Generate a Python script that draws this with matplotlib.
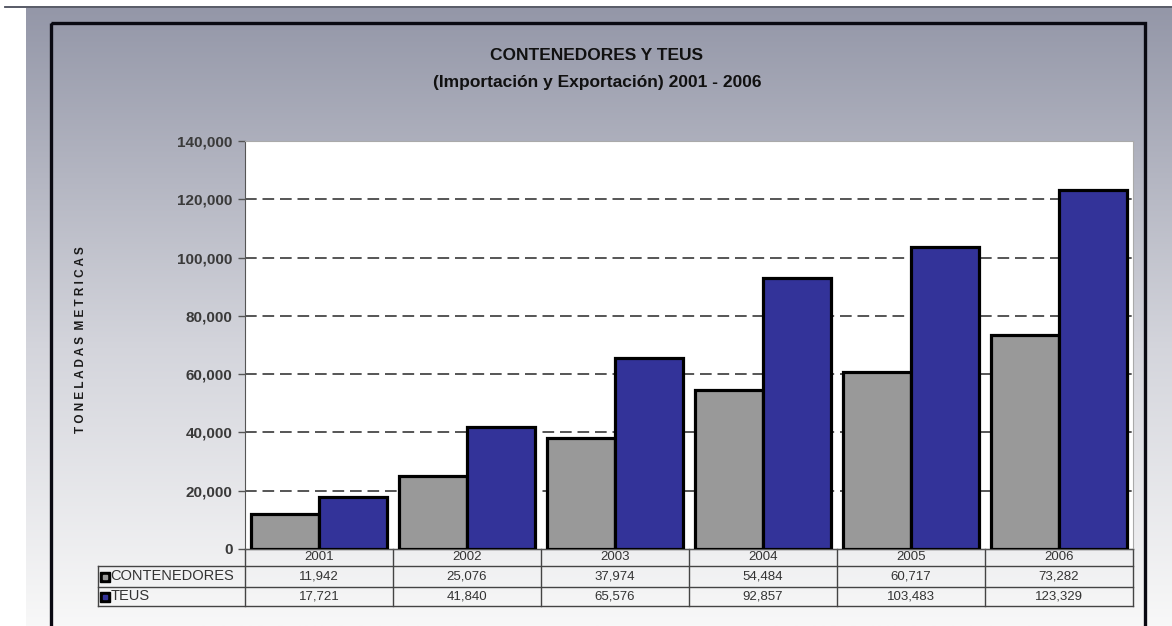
import numpy as np
import matplotlib
matplotlib.use("Agg")
import matplotlib.pyplot as plt
from matplotlib.patches import Rectangle
from matplotlib.transforms import blended_transform_factory

# ================= DATA =================
years = ["2001", "2002", "2003", "2004", "2005", "2006"]
contenedores = [11942, 25076, 37974, 54484, 60717, 73282]
teus = [17721, 41840, 65576, 92857, 103483, 123329]
series_names = ["CONTENEDORES", "TEUS"]

GREY = "#999999"
BLUE = "#333399"
TXT = "#333333"

plt.rcParams["font.family"] = ["Liberation Sans", "DejaVu Sans"]

W, H = 1172, 626
fig = plt.figure(figsize=(W / 100, H / 100), dpi=100)
fig.patch.set_facecolor("white")

# ================= BACKGROUND =================
bg = fig.add_axes([0, 0, 1, 1], zorder=-10)
bg.set_xlim(0, W)
bg.set_ylim(H, 0)
bg.axis("off")
top_c = np.array([148, 151, 168]) / 255
mid_c = np.array([212, 213, 220]) / 255
bot_c = np.array([248, 248, 248]) / 255
t = np.linspace(0, 1, 256)[:, None]
grad = np.where(t < 0.55,
                top_c + (mid_c - top_c) * (t / 0.55),
                mid_c + (bot_c - mid_c) * ((t - 0.55) / 0.45))
grad = np.repeat(grad[:, None, :], 2, axis=1)
bg.imshow(grad, extent=[26, W, H, 8], aspect="auto", interpolation="bilinear")
bg.plot([5, W], [6.5, 6.5], color="#4a4d5a", lw=1.3)
bg.add_patch(Rectangle((51, 23), 1094, 640, fill=False, edgecolor="#0a0a12", lw=2.4))

# titles
bg.text(597, 55, "CONTENEDORES Y TEUS", ha="center", va="center",
        fontsize=12.5, fontweight="bold", color="#111111")
bg.text(597, 82, "(Importación y Exportación) 2001 - 2006", ha="center", va="center",
        fontsize=12.5, fontweight="bold", color="#111111")
bg.text(81, 340, "T O N E L A D A S  M E T R I C A S",
        rotation=90, ha="center", va="center", fontsize=8.5, fontweight="bold",
        color="#1a1a1a")

# ================= PLOT =================
ax = fig.add_axes([245 / W, 1 - 549 / H, 888 / W, 408 / H])
ax.set_facecolor("white")
x = np.arange(len(years))
bw = 0.46
ax.bar(x - bw / 2, contenedores, width=bw, color=GREY, edgecolor="black", linewidth=2.3, zorder=3)
ax.bar(x + bw / 2, teus, width=bw, color=BLUE, edgecolor="black", linewidth=2.3, zorder=3)

ax.set_xlim(-0.5, len(years) - 0.5)
ax.set_ylim(0, 140000)
ax.set_yticks(np.arange(0, 140001, 20000))
ax.set_yticklabels([f"{v:,}" for v in range(0, 140001, 20000)],
                   fontsize=11, fontweight="bold", color="#3a3a3a")
ax.tick_params(axis="y", direction="out", length=5, width=1, color="#555555", pad=4)
ax.set_xticks([])
for v in range(20000, 140000, 20000):
    ax.axhline(v, color="#555555", lw=1.4, ls=(0, (6, 3)), zorder=1)
ax.spines["left"].set_color("#555555")
ax.spines["bottom"].set_color("#555555")
ax.spines["top"].set_color("#aaaaaa")
ax.spines["right"].set_color("#aaaaaa")

# ================= DATA TABLE =================
tr = blended_transform_factory(ax.transData, ax.transAxes)
ph = 408.0
rows_y = [0, -17 / ph, -38 / ph, -57 / ph]
lab_x = -0.5 - 147 / 148.0
lc = "#444444"
ax.plot([-0.5, 5.5], [rows_y[0]] * 2, transform=tr, color=lc, lw=1, clip_on=False)
for yy in rows_y[1:]:
    ax.plot([lab_x, 5.5], [yy, yy], transform=tr, color=lc, lw=1, clip_on=False)
ax.plot([lab_x, lab_x], [rows_y[1], rows_y[3]], transform=tr, color=lc, lw=1, clip_on=False)
for b in np.arange(-0.5, 6, 1.0):
    ax.plot([b, b], [rows_y[0], rows_y[3]], transform=tr, color=lc, lw=1, clip_on=False)

cy = [(rows_y[i] + rows_y[i + 1]) / 2 for i in range(3)]
for i, yr in enumerate(years):
    ax.text(i, cy[0], yr, transform=tr, ha="center", va="center", fontsize=9.5, color=TXT)
    ax.text(i, cy[1], f"{contenedores[i]:,}", transform=tr, ha="center", va="center", fontsize=9.5, color=TXT)
    ax.text(i, cy[2], f"{teus[i]:,}", transform=tr, ha="center", va="center", fontsize=9.5, color=TXT)

for k, (name, col) in enumerate(zip(series_names, [GREY, BLUE])):
    yy = cy[k + 1]
    ax.plot([lab_x + 0.045], [yy], transform=tr, marker="s", ms=7.5, color="black", clip_on=False)
    ax.plot([lab_x + 0.045], [yy], transform=tr, marker="s", ms=2.5, color=col, clip_on=False)
    ax.text(lab_x + 0.085, yy, name, transform=tr, ha="left", va="center", fontsize=10.5, color=TXT)

fig.savefig("out.png", dpi=100)
